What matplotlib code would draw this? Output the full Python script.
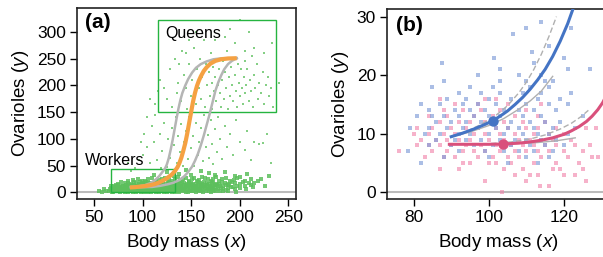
import matplotlib
matplotlib.use("Agg")
import matplotlib.pyplot as plt
import numpy as np
from matplotlib.patches import Rectangle

plt.rcParams['font.family'] = ['Liberation Sans', 'DejaVu Sans']
plt.rcParams['mathtext.fontset'] = 'custom'
plt.rcParams['mathtext.it'] = 'Liberation Sans:italic'

# ---- panel (a): workers / queens scatter, body mass vs ovarioles ----
worker_pts = """
55 2, 58 1, 62 3, 65 2, 67 4, 69 1, 71 3, 73 2, 75 4, 77 1, 79 3, 81 2, 83 4, 85 1,
87 3, 89 2, 91 4, 93 1, 95 3, 97 2, 99 4, 101 1, 103 3, 105 2, 107 4, 109 1, 111 3,
113 2, 115 4, 117 1, 119 3, 121 2, 123 4, 125 1, 127 3, 129 2, 131 4, 133 1, 136 3,
139 2, 142 4, 145 1, 148 3, 152 2, 156 4, 160 2, 165 3, 170 1, 176 3, 183 2,
60 6, 66 7, 70 5, 72 9, 74 6, 76 8, 78 5, 80 7, 82 9, 84 6, 86 8, 88 5, 90 7, 92 9,
94 6, 96 8, 98 5, 100 7, 102 9, 104 6, 106 8, 108 5, 110 7, 112 9, 114 6, 116 8,
118 5, 120 7, 122 9, 124 6, 126 8, 128 5, 130 7, 132 9, 135 6, 138 8, 141 5, 144 7,
147 9, 150 6, 153 8, 156 5, 159 7, 162 9, 166 6, 170 8, 174 5, 178 7, 183 6, 188 8, 195 6,
68 11, 73 13, 77 10, 80 12, 83 14, 86 11, 89 13, 92 10, 95 12, 98 14, 101 11, 104 13,
107 10, 110 12, 113 14, 116 11, 119 13, 122 10, 125 12, 128 14, 131 11, 134 13, 137 10,
140 12, 143 14, 146 11, 149 13, 152 10, 155 12, 158 14, 161 11, 164 13, 167 10, 171 12,
175 14, 180 11, 186 13, 193 10,
75 16, 82 18, 88 15, 93 17, 97 19, 102 16, 106 18, 111 15, 115 17, 119 19, 124 16,
128 18, 133 15, 137 17, 141 19, 146 16, 150 18, 155 15, 159 17, 163 19, 168 16, 173 18,
179 15, 185 17, 192 19, 200 15,
85 22, 95 25, 103 21, 110 27, 117 23, 123 26, 130 22, 136 28, 142 24, 148 21, 153 27,
158 23, 164 26, 170 22, 176 28, 182 24, 190 21, 197 26, 205 22, 215 18, 222 25, 230 30, 226 12,
112 33, 125 38, 138 35, 150 32, 160 40, 168 36, 175 33, 185 38, 195 31, 208 35, 145 42, 132 31,
70 1, 74 3, 78 2, 82 1, 86 3, 90 1, 94 2, 98 1, 102 3, 106 1, 110 2, 114 1, 118 3, 122 1,
126 2, 130 1, 134 3, 138 1, 143 2, 147 1, 151 3, 155 1, 158 2, 162 1, 168 2, 173 3, 180 2,
188 3, 196 1,
68 8, 71 6, 75 9, 79 7, 83 5, 87 9, 91 6, 95 8, 99 6, 103 8, 107 6, 111 8, 115 6, 119 8,
123 6, 127 7, 131 5, 134 8, 137 6, 140 9, 143 6, 146 8, 149 5, 152 9, 155 7, 158 6, 161 5,
164 8, 168 7, 172 6, 176 9, 181 8, 186 5, 191 9, 200 8, 207 6, 214 9,
71 12, 75 14, 79 11, 82 10, 85 13, 88 12, 91 14, 94 11, 97 10, 100 13, 103 12, 106 14,
109 11, 112 10, 115 13, 118 12, 121 14, 124 11, 127 10, 130 13, 133 12, 136 14, 139 11,
142 10, 145 13, 148 12, 151 14, 154 11, 157 10, 160 13, 163 12, 166 14, 169 11, 173 10,
177 13, 183 12, 189 14, 197 12, 205 11, 212 14,
78 19, 85 17, 91 20, 96 16, 100 18, 104 20, 108 17, 113 19, 117 16, 121 18, 126 20, 130 17,
135 19, 139 16, 143 18, 148 20, 152 16, 157 19, 161 16, 166 18, 171 20, 176 16, 182 19,
188 16, 195 18, 203 20, 210 17,
90 23, 99 22, 106 24, 114 21, 120 25, 127 23, 133 25, 139 22, 145 26, 151 24, 156 21,
161 28, 167 24, 173 25, 179 21, 186 27, 194 23, 200 28, 212 24, 219 21
"""

queen_pts = """
100 70, 105 85, 108 55, 112 95, 115 60, 118 110, 120 78, 122 130, 125 48, 126 100,
128 65, 130 120, 132 88, 134 140, 135 55, 137 105, 139 75, 140 128, 142 50, 143 95,
145 115, 147 62, 148 140, 150 82, 152 105, 153 50, 155 130, 157 70, 158 95, 160 120,
162 58, 163 145, 165 85, 167 108, 168 65, 170 135, 172 90, 173 52, 175 118, 177 75,
178 140, 180 100, 182 62, 185 125, 187 85, 190 110, 193 70, 196 135, 200 95, 205 80,
208 115, 212 60, 215 95, 220 90, 224 92, 228 110, 232 55, 92 45, 96 60, 88 40, 85 55,
102 110, 110 125, 113 145, 119 45, 98 95, 105 140, 108 175, 113 165, 116 190,
118 210, 122 195, 125 175, 128 230, 130 160, 133 250, 135 185, 137 205, 140 170,
141 265, 143 220, 145 195, 146 155, 148 240, 150 180, 151 210, 153 270, 155 165,
156 230, 158 195, 159 250, 160 175, 161 215, 163 285, 164 160, 165 240, 166 200,
168 225, 169 180, 170 260, 171 155, 172 205, 173 235, 174 190, 175 215, 176 170,
177 250, 178 200, 179 230, 180 185, 181 160, 182 210, 183 245, 184 175, 185 225,
186 195, 187 265, 188 155, 189 215, 190 180, 191 235, 192 200, 193 170, 194 250,
195 220, 196 190, 197 160, 198 240, 199 205, 200 180, 201 230, 202 195, 203 165,
204 215, 205 245, 206 185, 207 200, 208 230, 210 170, 211 210, 212 190, 213 255,
214 160, 215 220, 216 195, 218 240, 219 175, 220 205, 222 185, 224 225, 225 165,
227 200, 229 215, 230 180, 232 195, 234 160, 240 205, 233 280, 225 260, 215 270,
205 265, 195 280, 185 290, 175 285, 210 300, 155 300, 145 260, 138 240, 148 285,
190 305, 200 322
"""

# fitted curves
orange_x = [87, 92, 97, 102, 107, 112, 116, 120, 124, 127, 130, 133, 136, 138, 140, 142,
            144, 146, 148, 150, 152, 154, 156, 158, 160, 163, 166, 170, 175, 181, 188, 197]
orange_y = [9, 9.5, 10.5, 11.5, 13, 15, 17.5, 21, 25, 29, 33, 39, 47, 55, 65, 78,
            92, 110, 130, 150, 170, 186, 199, 209, 217, 227, 234, 241, 246, 249, 250.5, 251]
grayL_x = [88, 95, 102, 108, 113, 117, 120, 123, 125, 127, 129, 131, 133, 135, 137, 139,
           141, 144, 147, 151, 155, 160, 166, 173, 182, 197]
grayL_y = [10, 11, 13, 17, 23, 30, 37, 44, 52, 64, 80, 98, 118, 138, 157, 173,
           186, 200, 212, 224, 233, 240, 245, 249, 251, 251]
grayR_x = [88, 100, 110, 118, 126, 132, 138, 143, 147, 151, 154, 157, 160, 163, 166, 169,
           172, 175, 178, 181, 184, 188, 192, 197]
grayR_y = [9, 9.5, 10, 12, 15, 18, 23, 30, 38, 48, 59, 72, 88, 106, 126, 146,
           168, 190, 206, 219, 230, 240, 246, 251]

workers_box = (68, 0, 133, 43)
queens_box = (116, 150, 237, 322)

# ---- panel (b): two morphs ----
blue_rows = {
    5: [82, 105, 113], 6: [88, 100, 110, 116], 7: [78.5, 92, 99, 104, 108, 112, 117],
    8: [84, 90, 96, 101, 106, 111, 115, 120], 9: [86, 91, 94, 98, 103, 107, 110, 114, 118],
    10: [83, 87, 92, 95, 100, 104, 109, 113, 116, 121],
    11: [79, 84, 89, 93, 97, 102, 105, 108, 112, 117, 123],
    12: [86, 90, 94, 98, 101, 106, 111, 115, 119],
    13: [81, 85, 88, 92, 96, 100, 103, 109, 114, 125],
    14: [84, 91, 95, 99, 104, 108, 112, 118], 15: [82, 87, 93, 97, 102, 110, 116, 121],
    16: [89, 94, 100, 106, 113, 119], 17: [92, 98, 103, 109, 114, 122],
    18: [85, 95, 101, 111, 116], 19: [88, 103, 110, 115, 117], 20: [97, 108, 114],
    21: [103, 121, 127], 22: [87.5, 112], 23: [101.5, 120], 24: [111.5], 25: [116],
    27: [106.5], 28: [110, 122], 29: [114],
}
pink_rows = {
    0: [103.5], 1: [113.5, 116], 2: [99, 110, 126], 3: [107, 111, 113, 120, 123],
    4: [87, 92, 104, 109, 117, 119, 125], 5: [93, 95, 100, 102, 106, 112, 118, 124],
    6: [83, 88, 91, 97, 101, 105, 108, 114, 121, 127.5, 129],
    7: [76, 85, 89, 93, 96, 99, 103, 107, 110, 113, 116, 120, 125],
    8: [81, 84, 87, 90, 94, 98, 102, 106, 109, 112, 115, 118, 123, 127],
    9: [82, 86, 89, 92, 95, 100, 104, 108, 111, 114, 117, 122],
    10: [80, 84, 88, 91, 96, 99, 103, 107, 112, 116, 120],
    11: [81, 85, 90, 94, 97, 102, 105, 110, 113, 118, 126, 128.5],
    12: [87, 92, 95, 99, 104, 109, 115], 13: [84, 89, 96, 101, 107, 113],
    14: [88, 93, 98, 103, 110], 15: [91, 97, 105, 114], 16: [87, 99, 102],
}

blue_x = [90, 93, 96, 99, 101, 103, 105, 107, 109, 111, 113, 115, 117, 119, 121, 122.4]
blue_y = [9.5, 10.1, 10.8, 11.6, 12.2, 13, 13.9, 15, 16.2, 17.6, 19.2, 21, 23.2, 25.8, 28.8, 31.3]
blue_lo_x = [90, 95, 100, 104, 108, 111, 114, 117]
blue_lo_y = [9.5, 10.3, 11.4, 12.6, 14.2, 15.6, 17.3, 19.8]
blue_hi_x = [90, 94, 98, 102, 105, 108, 110, 112, 114, 116, 118]
blue_hi_y = [9.5, 10.4, 11.6, 13.2, 14.8, 17, 18.8, 21, 23.6, 26.6, 30]
pink_x = [89.5, 100, 104, 108, 111, 114, 117, 120, 122, 124, 126, 127.5, 129, 130.3, 131.5]
pink_y = [8.2, 8.2, 8.25, 8.4, 8.6, 8.9, 9.3, 9.9, 10.5, 11.2, 12.1, 13, 14.1, 15.3, 16.8]
pink_lo_x = [89.5, 100, 108, 113, 118, 123]
pink_lo_y = [8.2, 8.2, 8.35, 8.5, 8.8, 9.3]
pink_hi_x = [89.5, 100, 106, 111, 115, 119, 122, 124.5, 126.5]
pink_hi_y = [8.2, 8.3, 8.6, 9.1, 9.8, 10.8, 11.8, 12.9, 14]
blue_dot = (101.1, 12.2)
pink_dot = (103.8, 8.25)


def parse(s):
    return np.array([[float(v) for v in p.split()] for p in s.replace("\n", " ").split(",") if p.strip()])


def rows_to_xy(rows):
    xs, ys = [], []
    for y, xl in rows.items():
        xs += xl
        ys += [y] * len(xl)
    return xs, ys


def style_axes(ax):
    ax.tick_params(labelsize=12.5, length=5, width=1, direction='out', pad=3)
    for s in ax.spines.values():
        s.set_linewidth(1.2)
        s.set_color('#222222')
    ax.set_xlabel('Body mass ($\\it{x}$)', fontsize=13.5, labelpad=5)
    ax.set_ylabel('Ovarioles ($\\it{y}$)', fontsize=13.5, labelpad=4)


fig = plt.figure(figsize=(6.03, 2.57), dpi=100)

# panel a
ax1 = fig.add_axes([77 / 603, 58 / 257, 219 / 603, 191 / 257])
green = '#5cbf5c'
wk = parse(worker_pts)
qn = parse(queen_pts)
ax1.axhline(0, color='#bbbbbb', lw=1.5, zorder=1)
ax1.scatter(wk[:, 0], wk[:, 1], s=9, marker='s', color=green, alpha=0.85, lw=0, zorder=2)
ax1.scatter(qn[:, 0], qn[:, 1], s=3, marker='s', color=green, alpha=0.75, lw=0, zorder=2)
for b in (workers_box, queens_box):
    ax1.add_patch(Rectangle((b[0], b[1]), b[2] - b[0], b[3] - b[1], fill=False,
                            ec='#25b440', lw=1.0, zorder=3))
ax1.plot(grayL_x, grayL_y, color='#b5b5b5', lw=1.8, zorder=4)
ax1.plot(grayR_x, grayR_y, color='#b5b5b5', lw=1.8, zorder=4)
ax1.plot(orange_x, orange_y, color='#f5a142', lw=3, zorder=5, solid_capstyle='butt')
ax1.text(123, 297, 'Queens', fontsize=11.5, va='center')
ax1.text(41, 59, 'Workers', fontsize=11.5, va='center')
ax1.text(0.035, 0.925, '(a)', transform=ax1.transAxes, fontsize=15, fontweight='bold', va='center')
ax1.set_xlim(32.5, 258)
ax1.set_ylim(-12.6, 345)
ax1.set_xticks([50, 100, 150, 200, 250])
ax1.set_yticks([0, 50, 100, 150, 200, 250, 300])
style_axes(ax1)

# panel b
ax2 = fig.add_axes([387 / 603, 58 / 257, 216 / 603 + 0.01, 190 / 257])
ax2.axhline(0, color='#bbbbbb', lw=1.5, zorder=1)
px, py = rows_to_xy(pink_rows)
bx, by = rows_to_xy(blue_rows)
ax2.scatter(px, py, s=6, marker='s', color='#f07fa8', alpha=0.6, lw=0, zorder=2)
ax2.scatter(bx, by, s=6, marker='s', color='#7f9bd8', alpha=0.65, lw=0, zorder=2)
ax2.plot(blue_lo_x, blue_lo_y, color='#b0b0b0', lw=1.0, zorder=3)
ax2.plot(blue_hi_x, blue_hi_y, color='#b0b0b0', lw=1.0, ls=(0, (4, 2)), zorder=3)
ax2.plot(pink_lo_x, pink_lo_y, color='#b0b0b0', lw=1.0, zorder=3)
ax2.plot(pink_hi_x, pink_hi_y, color='#b0b0b0', lw=1.0, ls=(0, (4, 2)), zorder=3)
ax2.plot(blue_x, blue_y, color='#4474c4', lw=2.2, zorder=4)
ax2.plot(pink_x, pink_y, color='#d9507c', lw=2.2, zorder=4)
ax2.plot(*blue_dot, 'o', color='#4474c4', ms=6.5, zorder=5)
ax2.plot(*pink_dot, 'o', color='#d9507c', ms=6.5, zorder=5)
ax2.text(0.04, 0.915, '(b)', transform=ax2.transAxes, fontsize=15, fontweight='bold', va='center')
ax2.set_xlim(72.9, 132)
ax2.set_ylim(-1.14, 31.3)
ax2.set_xticks([80, 100, 120])
ax2.set_yticks([0, 10, 20, 30])
ax2.spines['right'].set_visible(False)
style_axes(ax2)

fig.savefig('out.png', dpi=100)
